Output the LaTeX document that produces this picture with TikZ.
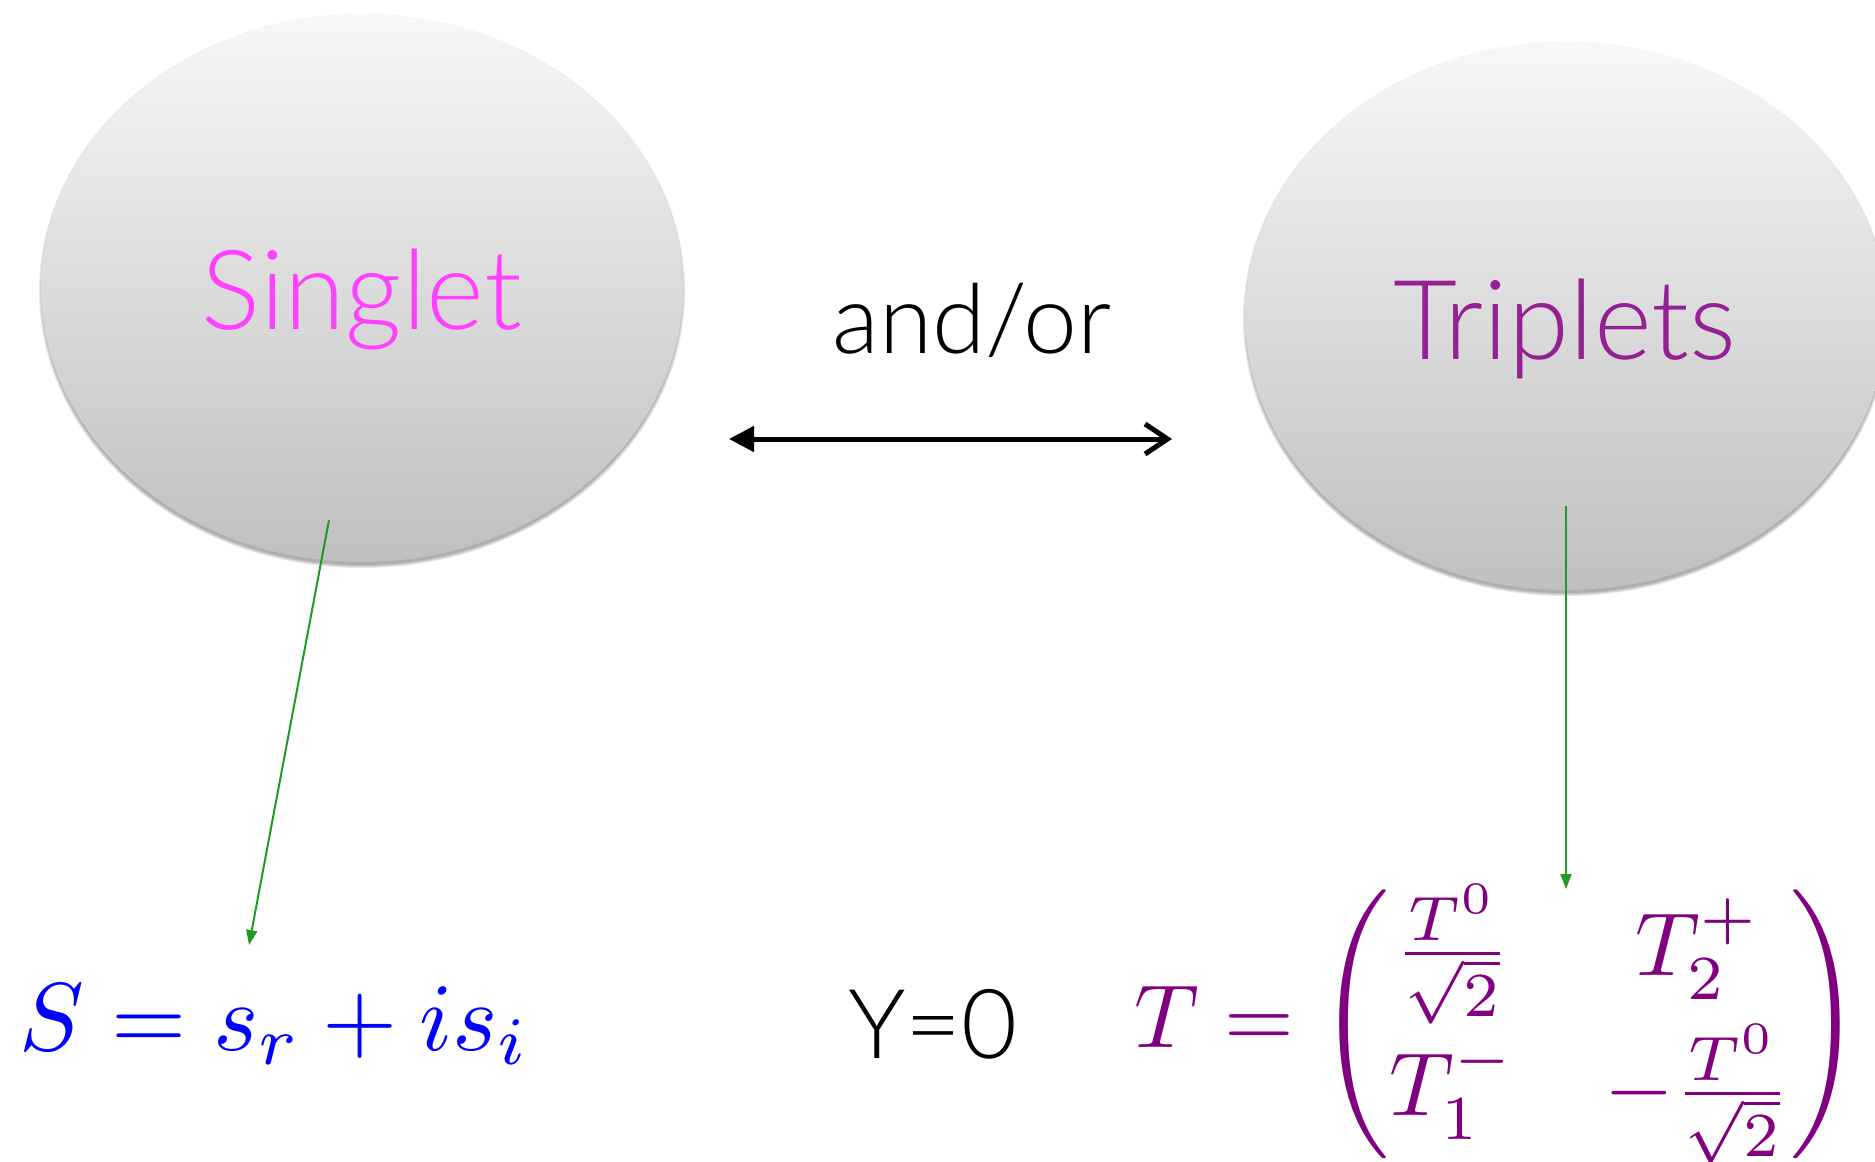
\documentclass[tikz,border=0pt]{standalone}
\usepackage{fontspec}
\usepackage{amsmath}
\usetikzlibrary{arrows.meta,shapes.geometric,calc}
\newfontfamily\lightfont{Lato Light}
\definecolor{singletc}{HTML}{FF40FF}
\definecolor{tripc}{HTML}{942192}
\definecolor{matc}{HTML}{800080}
\definecolor{arrg}{HTML}{1F9A22}
\begin{document}
\begin{tikzpicture}[x=0.02cm,y=-0.02cm,
  blob/.style={ellipse, minimum width=12.84cm, minimum height=10.96cm, inner sep=0pt, top color=gray!6, bottom color=gray!50, draw=none},
  bigtext/.style={font=\lightfont\fontsize{63}{63}\selectfont, inner sep=0pt},
  midtext/.style={font=\lightfont\fontsize{55}{55}\selectfont, inner sep=0pt},
  gline/.style={draw=arrg, line width=0.04cm, -{Triangle[length=0.3cm,width=0.22cm]}},
  shadowe/.style={fill=black, opacity=0.09},
  bidir/.style={line width=0.1cm, {Triangle[length=0.5cm,width=0.5cm]}-{Straight Barb[length=0.45cm,width=0.6cm]}}
]
\useasboundingbox (0,0) rectangle (1875,1162);
\foreach \k in {0,1,2,3} {
  \fill[shadowe] (362,291) ellipse [x radius={320+\k}, y radius={274+\k}];
  \fill[shadowe] (1566,319) ellipse [x radius={320+\k}, y radius={274+\k}];
}
\node[blob] (sing) at (362,288) {};
\node[blob] (trip) at (1566,316) {};
\node[bigtext, text=singletc, anchor=base] (singt) at (362,329) {Singlet};
\node[bigtext, text=tripc, anchor=base] (tript) at (1565,359) {Triplets};
\node[midtext, anchor=base] (andor) at (972,353) {and/or};
\coordinate (a1) at (729,439);
\coordinate (a2) at (1172,439);
\draw[bidir] (a1) -- (a2);
\node[anchor=base west, inner sep=0pt, text=blue] (sform) at (19,1050) {\scalebox{5.5}{$S=s_r+is_i$}};
\node[midtext, anchor=base] (yzero) at (933,1058) {Y=0};
\node[anchor=base west, inner sep=0pt, text=matc] (tmat) at (1134,1047) {\scalebox{5.1}{$T=\begin{pmatrix}\frac{T^0}{\sqrt{2}} & T_2^+\\ T_1^- & -\frac{T^0}{\sqrt{2}}\end{pmatrix}$}};
\coordinate (g1) at (329,520);
\coordinate (g2) at (249,945);
\coordinate (g3) at (1566,506);
\coordinate (g4) at (1566,889);
\draw[gline] (g1) -- (g2);
\draw[gline] (g3) -- (g4);
\end{tikzpicture}
\end{document}
